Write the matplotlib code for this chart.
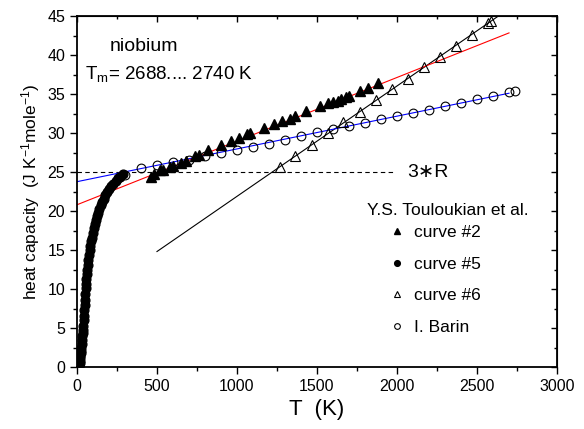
import numpy as np
import matplotlib
matplotlib.use("Agg")
from matplotlib import pyplot as plt
from matplotlib.ticker import MultipleLocator

plt.rcParams['font.family'] = ['Liberation Sans', 'DejaVu Sans']
plt.rcParams['mathtext.default'] = 'regular'

# Touloukian curve #5 (low temperature)
c5_T = [12, 14, 16, 18, 20, 22, 24, 26, 28, 30, 32, 34, 36, 38, 40, 42, 44, 46, 48, 50,
        52, 54, 56, 59, 62, 65, 68, 71, 75, 79, 83, 88, 93, 98, 104, 110, 117, 124, 132, 140,
        149, 158, 168, 178, 190, 202, 215, 228, 242, 256, 270, 285]
c5_cp = [0.1, 0.3, 0.5, 0.8, 1.1, 1.4, 1.75, 2.1, 2.5, 3.0, 3.5, 4.0, 4.4, 4.8, 5.3, 6.0, 6.6, 7.3, 8.0, 8.6,
         9.4, 10.1, 10.7, 11.3, 11.9, 12.4, 13.1, 13.7, 14.4, 15.0, 15.5, 16.1, 16.6, 17.2, 17.8, 18.3, 18.8, 19.3, 19.8, 20.3,
         20.8, 21.2, 21.6, 22.0, 22.4, 22.8, 23.2, 23.5, 23.9, 24.2, 24.4, 24.7]

# Touloukian curve #2
c2_T = [460, 480, 520, 540, 580, 600, 650, 680, 740, 760, 820, 900, 960, 1010, 1060, 1080,
        1170, 1230, 1280, 1330, 1360, 1430, 1520, 1570, 1600, 1630, 1650, 1680, 1700, 1770, 1820, 1880]
c2_cp = [24.4, 24.7, 25.2, 25.3, 25.6, 25.8, 26.2, 26.4, 27.0, 27.2, 27.8, 28.4, 29.0, 29.4, 29.9, 30.0,
         30.6, 31.1, 31.5, 31.8, 32.2, 32.8, 33.5, 33.8, 34.0, 34.1, 34.3, 34.6, 34.8, 35.4, 35.8, 36.4]

# Touloukian curve #6
c6_T = [1270, 1365, 1470, 1570, 1665, 1770, 1870, 1970, 2070, 2170, 2270, 2370, 2470, 2570, 2590]
c6_cp = [25.7, 27.0, 28.5, 30.0, 31.4, 32.7, 34.2, 35.6, 36.9, 38.4, 39.8, 41.2, 42.6, 44.1, 44.4]

# I. Barin tables
barin_T = [298, 400, 500, 600, 700, 800, 900, 1000, 1100, 1200, 1300, 1400, 1500, 1600,
           1700, 1800, 1900, 2000, 2100, 2200, 2300, 2400, 2500, 2600, 2700, 2740]
barin_cp = [24.6, 25.45, 25.9, 26.3, 26.6, 27.0, 27.4, 27.8, 28.2, 28.6, 29.1, 29.6, 30.1, 30.5,
            30.9, 31.3, 31.8, 32.2, 32.6, 33.0, 33.5, 33.9, 34.3, 34.7, 35.2, 35.4]

# linear fits: (intercept, slope, T range)
fit_c2 = (20.8, 0.00816, (0, 2700))
fit_barin = (23.76, 0.0042, (0, 2700))
fit_c6 = (7.73, 0.01415, (500, 2700))

R = 8.314

fig = plt.figure(figsize=(5.84, 4.29), dpi=100)
ax = fig.add_axes([0.1318, 0.1445, 0.822, 0.8182])


def fit_line(fit, color):
    b, k, (t0, t1) = fit
    t = np.array([t0, t1])
    ax.plot(t, b + k * t, color=color, lw=0.8, zorder=2)


ax.plot([0, 1990], [3 * R, 3 * R], color='black', lw=0.8, dashes=(4, 3), zorder=1)
fit_line(fit_c6, 'black')
fit_line(fit_c2, 'red')
fit_line(fit_barin, 'blue')

h2, = ax.plot(c2_T, c2_cp, ls='none', marker='^', ms=7.5, color='black', zorder=3)
h5, = ax.plot(c5_T, c5_cp, ls='none', marker='o', ms=6.3, color='black', zorder=3)
h6, = ax.plot(c6_T, c6_cp, ls='none', marker='^', ms=7.5, mfc='none', mec='black', mew=0.8, zorder=3)
hb, = ax.plot(barin_T, barin_cp, ls='none', marker='o', ms=6.3, mfc='none', mec='black', mew=0.8, zorder=3)

ax.set_xlim(0, 3000)
ax.set_ylim(0, 45)
ax.xaxis.set_major_locator(MultipleLocator(500))
ax.xaxis.set_minor_locator(MultipleLocator(250))
ax.yaxis.set_major_locator(MultipleLocator(5))
ax.yaxis.set_minor_locator(MultipleLocator(2.5))
ax.tick_params(which='both', direction='out', labelsize=11.5, width=1.0)
ax.tick_params(which='major', length=5)
ax.tick_params(which='minor', length=3)
for s in ax.spines.values():
    s.set_linewidth(1.3)

# mirrored axes with inward ticks
axt = ax.secondary_xaxis('top')
axt.xaxis.set_major_locator(MultipleLocator(500))
axt.xaxis.set_minor_locator(MultipleLocator(250))
axt.tick_params(which='both', direction='in', labeltop=False, width=1.0)
axt.tick_params(which='major', length=4)
axt.tick_params(which='minor', length=2.5)
axr = ax.secondary_yaxis('right')
axr.yaxis.set_major_locator(MultipleLocator(5))
axr.yaxis.set_minor_locator(MultipleLocator(2.5))
axr.tick_params(which='both', direction='in', labelright=False, width=1.0)
axr.tick_params(which='major', length=4)
axr.tick_params(which='minor', length=2.5)

ax.set_xlabel('T  (K)', fontsize=16, labelpad=4)
ax.set_ylabel('heat capacity  (J K$^{-1}$mole$^{-1}$)', fontsize=12.5, labelpad=4)

ax.text(0.069, 0.901, 'niobium', transform=ax.transAxes, fontsize=14)
ax.text(0.017, 0.82, 'T$_m$= 2688.... 2740 K', transform=ax.transAxes, fontsize=13.5)
ax.text(2065, 3 * R, '3\u2217R', fontsize=14, va='center')

ax.text(0.604, 0.445, 'Y.S. Touloukian et al.', transform=ax.transAxes, fontsize=12.5, va='center')
ax.legend([h2, h5, h6, hb], ['curve #2', 'curve #5', 'curve #6', 'I. Barin'],
          loc='upper left', bbox_to_anchor=(0.6486, 0.405), frameon=False,
          fontsize=12.5, markerscale=0.65, handlelength=1.0, handletextpad=0.5,
          labelspacing=0.95, borderpad=0, borderaxespad=0)

fig.savefig('out.png', dpi=100)
